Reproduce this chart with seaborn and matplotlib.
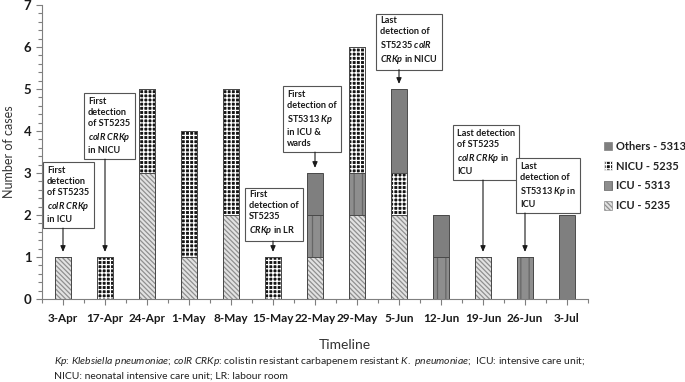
import numpy as np
import matplotlib
matplotlib.use("Agg")
import matplotlib.pyplot as plt
import matplotlib.patches as mpatches
from matplotlib.ticker import MultipleLocator, FixedLocator
import seaborn as sns

# Datos
fechas = ["3-Apr", "17-Apr", "24-Apr", "1-May", "8-May", "15-May", "22-May",
          "29-May", "5-Jun", "12-Jun", "19-Jun", "26-Jun", "3-Jul"]
icu_5235 = [1, 0, 3, 1, 2, 0, 1, 2, 2, 0, 1, 0, 0]
icu_5313 = [0, 0, 0, 0, 0, 0, 1, 1, 0, 1, 0, 1, 0]
nicu_5235 = [0, 1, 2, 3, 3, 1, 0, 3, 1, 0, 0, 0, 0]
otros_5313 = [0, 0, 0, 0, 0, 0, 1, 0, 2, 1, 0, 0, 2]

capas = ["ICU - 5235", "ICU - 5313", "NICU - 5235", "Others - 5313"]
valores = [icu_5235, icu_5313, nicu_5235, otros_5313]

# estilo de cada capa: (relleno, color de trama, trama)
estilos = {
    "ICU - 5235": ("#e2e2e2", "#8f8f8f", "\\\\\\\\\\\\\\"),
    "ICU - 5313": ("#8e8e8e", "#666666", "||"),
    "NICU - 5235": ("#151515", "#ffffff", "++++"),
    "Others - 5313": ("#7f7f7f", "#7f7f7f", None),
}

# Notas (indice de la barra, texto, esquina sup. izq. del texto en px)
notas = [
    (0, "First\ndetection\nof ST5235\n$\\mathbfit{colR\\ CRKp}$\nin ICU", (47, 166)),
    (1, "First\ndetection\nof ST5235\n$\\mathbfit{colR\\ CRKp}$\nin NICU", (88, 97)),
    (5, "First\ndetection of\nST5235\n$\\mathbfit{CRKp}$ in LR", (249, 190)),
    (6, "First\ndetection of\nST5313 $\\mathbfit{Kp}$\nin ICU &\nwards", (287, 90)),
    (8, "Last\ndetection of\nST5235 $\\mathbfit{colR}$\n$\\mathbfit{CRKp}$ in NICU", (380, 16)),
    (10, "Last detection\nof ST5235\n$\\mathbfit{colR\\ CRKp}$ in\nICU", (457, 129)),
    (11, "Last\ndetection of\nST5313 $\\mathbfit{Kp}$ in\nICU", (520, 162)),
]

sns.set_style("ticks")
plt.rcParams["font.family"] = ["Lato", "DejaVu Sans"]
plt.rcParams["mathtext.fontset"] = "custom"
plt.rcParams["mathtext.rm"] = "Lato"
plt.rcParams["mathtext.it"] = "Lato:italic"
plt.rcParams["mathtext.bf"] = "Lato:bold"
plt.rcParams["mathtext.bfit"] = "Lato:italic:bold"
plt.rcParams["hatch.linewidth"] = 0.9

W, H = 685, 382
fig = plt.figure(figsize=(W / 100, H / 100), dpi=100)
ax = fig.add_axes([42 / W, 1 - 299 / H, 546 / W, 294 / H])

acumulado = np.cumsum(np.array(valores), axis=0)

# Barras apiladas: de arriba hacia abajo, cada capa tapa a la anterior
for k in range(len(capas) - 1, -1, -1):
    cara, trama_col, trama = estilos[capas[k]]
    sns.barplot(x=fechas, y=acumulado[k], order=fechas, color=cara, width=0.4,
                errorbar=None, ax=ax, saturation=1, linewidth=0,
                edgecolor=trama_col, hatch=trama)
for k in range(len(capas)):
    sns.barplot(x=fechas, y=acumulado[k], order=fechas, fill=False, color="#4a4a4a",
                width=0.4, errorbar=None, ax=ax, linewidth=0.7)

ax.set_xlim(-0.5, len(fechas) - 0.5)
ax.set_ylim(0, 7)
ax.yaxis.set_major_locator(MultipleLocator(1))
ax.yaxis.set_minor_locator(MultipleLocator(0.2))
ax.xaxis.set_minor_locator(FixedLocator(np.arange(-0.5, len(fechas), 1)))
ax.tick_params(axis="both", which="both", direction="out", color="#7f7f7f", width=0.8)
ax.tick_params(axis="both", which="major", length=4)
ax.tick_params(axis="both", which="minor", length=3)
ax.tick_params(axis="x", labelsize=8.5, pad=6)
ax.tick_params(axis="y", labelsize=9.5)
for lab in ax.get_xticklabels() + ax.get_yticklabels():
    lab.set_fontweight("bold")
    lab.set_color("#1a1a1a")
for lado in ["top", "right"]:
    ax.spines[lado].set_visible(False)
for lado in ["left", "bottom"]:
    ax.spines[lado].set_color("#7f7f7f")
    ax.spines[lado].set_linewidth(0.8)

ax.set_xlabel("")
ax.set_ylabel("Number of cases", fontsize=9, color="#333333")
ax.yaxis.set_label_coords(-27 / 546, 0.5)
fig.text(345 / W, 1 - 345 / H, "Timeline", fontsize=10, color="#333333",
         ha="center", va="center")

# Cuadros de texto con flechas
cajas = []
for i, txt, (px, py) in notas:
    xd = (px - 42) / 42 - 0.5
    yd = (299 - py) / 42
    t = ax.text(xd, yd, txt, fontsize=6.6, fontweight="bold", color="#1a1a1a",
                ha="left", va="top", linespacing=1.3,
                bbox=dict(boxstyle="square,pad=0.45", fc="white", ec="#555555", lw=0.8))
    cajas.append((i, t))

fig.canvas.draw()
inv = ax.transData.inverted()
for i, t in cajas:
    ext = t.get_bbox_patch().get_window_extent()
    y_ini = inv.transform((0, ext.y0))[1]
    alto = acumulado[-1][i]
    ax.annotate("", xy=(i, alto + 0.12), xytext=(i, y_ini),
                arrowprops=dict(arrowstyle="-|>,head_length=0.35,head_width=0.15",
                                color="#1a1a1a", lw=0.8, shrinkA=0, shrinkB=0))

# Leyenda
manejadores = []
for nombre in reversed(capas):
    cara, trama_col, trama = estilos[nombre]
    manejadores.append(mpatches.Patch(facecolor=cara, edgecolor=trama_col, hatch=trama,
                                      linewidth=0.5, label=nombre))
leg = fig.legend(handles=manejadores, loc="center left", bbox_to_anchor=(598 / W, 1 - 176 / H),
                 frameon=False, fontsize=8, handlelength=0.8, handleheight=0.8,
                 handletextpad=0.3, labelspacing=0.8, borderpad=0)
for txt in leg.get_texts():
    txt.set_fontweight("bold")
    txt.set_color("#222222")

# Nota al pie
fig.text(54 / W, 1 - 362 / H,
         "$\\mathit{Kp}$: $\\mathit{Klebsiella\\ pneumoniae}$; $\\mathit{colR\\ CRKp}$: "
         "colistin resistant carbapenem resistant $\\mathit{K.\\ pneumoniae}$;  ICU: intensive care unit;",
         fontsize=7.5, color="#222222", va="center")
fig.text(54 / W, 1 - 376 / H, "NICU: neonatal intensive care unit; LR: labour room",
         fontsize=7.5, color="#222222", va="center")

fig.savefig("out.png", dpi=100)
